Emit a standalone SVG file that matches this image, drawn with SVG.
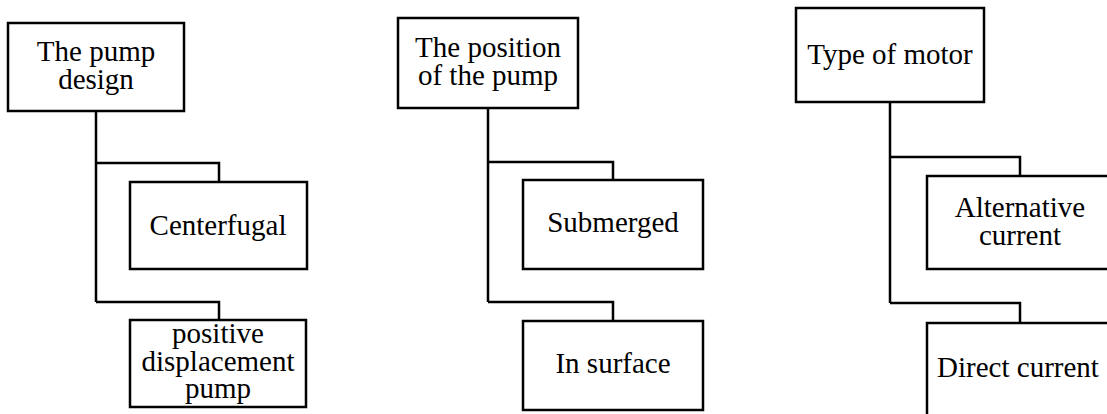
<svg xmlns="http://www.w3.org/2000/svg" width="1107" height="414" viewBox="0 0 1107 414">
  <style>
    .box { fill: #ffffff; stroke: #000000; stroke-width: 2.5; }
    .link { fill: none; stroke: #000000; stroke-width: 2.5; }
    .label { font-family: "Liberation Serif", "Times New Roman", serif; font-size: 29px; fill: #000000; text-anchor: middle; }
  </style>
  <rect width="1107" height="414" fill="#ffffff"/>

  <!-- tree connectors -->
  <g id="connectors">
    <path class="link" d="M96,111 V302 M96,163 H219 V182 M96,302 H219 V320"/>
    <path class="link" d="M488,108 V302 M488,162 H613 V180 M488,302 H613 V321"/>
    <path class="link" d="M890,102 V303 M890,157 H1020 V176 M890,303 H1020 V323"/>
  </g>

  <!-- column 1: pump design -->
  <g id="pump-design">
    <rect class="box" x="8" y="23" width="176" height="88"/>
    <text class="label" x="96" y="61">The pump</text>
    <text class="label" x="96" y="89">design</text>
  </g>
  <g id="centerfugal">
    <rect class="box" x="130" y="182" width="177" height="87"/>
    <text class="label" x="218" y="235">Centerfugal</text>
  </g>
  <g id="positive-displacement">
    <rect class="box" x="130" y="320" width="176" height="87"/>
    <text class="label" x="218" y="343">positive</text>
    <text class="label" x="218" y="371">displacement</text>
    <text class="label" x="218" y="398">pump</text>
  </g>

  <!-- column 2: pump position -->
  <g id="pump-position">
    <rect class="box" x="398" y="18" width="180" height="90"/>
    <text class="label" x="488" y="57">The position</text>
    <text class="label" x="488" y="85">of the pump</text>
  </g>
  <g id="submerged">
    <rect class="box" x="523" y="180" width="180" height="89"/>
    <text class="label" x="613" y="232">Submerged</text>
  </g>
  <g id="in-surface">
    <rect class="box" x="523" y="321" width="180" height="89"/>
    <text class="label" x="613" y="373">In surface</text>
  </g>

  <!-- column 3: motor type -->
  <g id="motor-type">
    <rect class="box" x="796" y="8" width="188" height="94"/>
    <text class="label" x="890" y="64">Type of motor</text>
  </g>
  <g id="alternative-current">
    <rect class="box" x="927" y="176" width="187" height="93"/>
    <text class="label" x="1020" y="217">Alternative</text>
    <text class="label" x="1020" y="245">current</text>
  </g>
  <g id="direct-current">
    <rect class="box" x="927" y="323" width="187" height="100"/>
    <text class="label" x="1018" y="377">Direct current</text>
  </g>
</svg>
